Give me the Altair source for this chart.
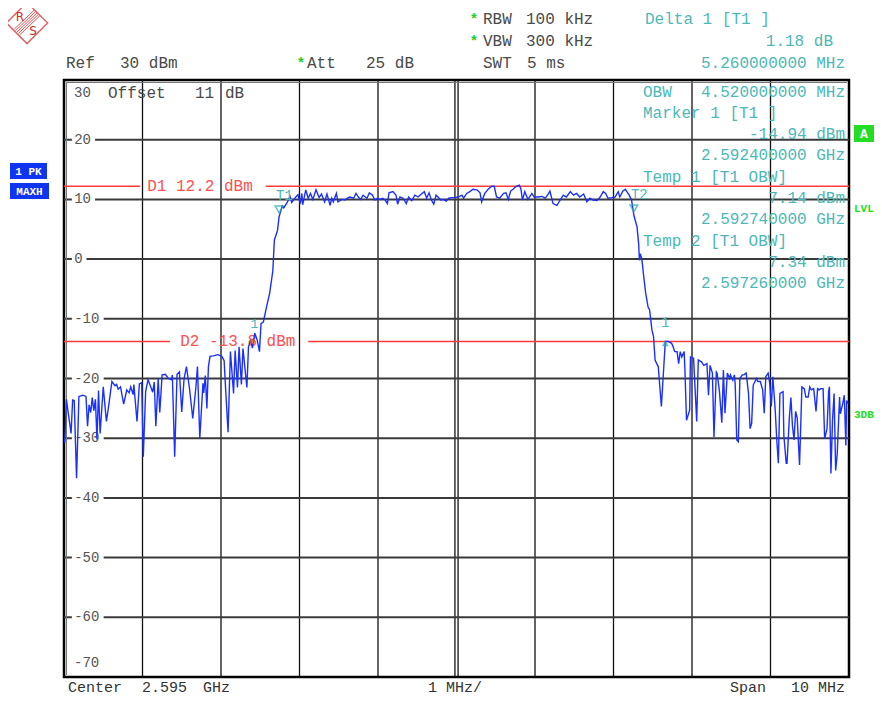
import altair as alt
import pandas as pd

# ---------------- instrument settings / readouts ----------------
center_ghz = 2.595
span_mhz = 10
ref_dbm = 30
att_db = 25
rbw_khz = 100
vbw_khz = 300
swt_ms = 5
offset_db = 11
y_tick_values = [30, 20, 10, 0, -10, -20, -30, -40, -50, -60, -70]
d1_dbm = 12.2
d2_dbm = -13.8
marker1 = (2.5924, -14.94)      # GHz, dBm
temp1 = (2.59274, 7.14)
temp2 = (2.59726, 7.34)
delta1 = (5.26, 1.18)           # MHz, dB
obw_mhz = 4.52

# ---------------- trace (offset from start freq in MHz, level dBm) ----------------
left_skirt = [
    (0.01, -30.8), (0.03, -23.5), (0.09, -29.2), (0.11, -23.6), (0.13, -23.7), (0.16, -36.7),
    (0.19, -23.0), (0.24, -22.8), (0.28, -23.0), (0.30, -28.0), (0.32, -24.4), (0.34, -25.7),
    (0.36, -23.2), (0.38, -25.4), (0.40, -23.5), (0.42, -30.2), (0.44, -22.0), (0.46, -29.2),
    (0.50, -21.4), (0.54, -27.2), (0.57, -24.5), (0.61, -20.5), (0.65, -21.2), (0.67, -21.0),
    (0.69, -21.8), (0.72, -21.4), (0.76, -24.3), (0.80, -21.9), (0.83, -22.4), (0.85, -21.4),
    (0.88, -22.7), (0.89, -21.0), (0.93, -27.2), (0.96, -20.9), (0.99, -20.7), (1.01, -33.1),
    (1.04, -22.2), (1.07, -20.2), (1.10, -21.2), (1.13, -22.3), (1.15, -20.6), (1.17, -28.0),
    (1.20, -20.0), (1.22, -25.7), (1.25, -19.4), (1.29, -19.3), (1.33, -20.0), (1.37, -20.2),
    (1.38, -19.4), (1.41, -33.1), (1.44, -19.3), (1.47, -18.9), (1.50, -25.6), (1.53, -20.0),
    (1.56, -18.0), (1.60, -21.8), (1.64, -26.7), (1.68, -21.5), (1.70, -18.0), (1.73, -30.0),
    (1.77, -20.8), (1.78, -22.4), (1.80, -19.5), (1.82, -25.0), (1.84, -18.0), (1.86, -16.3),
    (1.90, -16.2), (1.96, -16.0), (2.01, -16.3), (2.04, -17.0), (2.06, -22.0), (2.09, -29.0),
    (2.12, -15.5), (2.16, -22.5), (2.18, -15.3), (2.21, -21.5), (2.23, -14.7), (2.26, -21.0),
    (2.28, -15.0), (2.33, -21.5), (2.35, -14.7), (2.38, -13.6), (2.40, -14.9), (2.43, -12.4),
    (2.46, -13.5), (2.49, -15.5), (2.51, -10.8), (2.54, -10.5), (2.58, -8.0), (2.62, -5.7),
    (2.66, -2.0), (2.68, 3.2), (2.70, 4.0), (2.72, 4.8),
]
passband = [
    (2.74, 7.1), (2.76, 8.0), (2.78, 8.9), (2.80, 8.6), (2.84, 9.4), (2.88, 10.5), (2.90, 9.5),
    (2.94, 10.2), (2.98, 10.8), (3.01, 9.3), (3.03, 11.0), (3.04, 9.1), (3.08, 11.6), (3.11, 10.2),
    (3.14, 11.0), (3.17, 10.0), (3.21, 11.6), (3.25, 10.3), (3.28, 10.9), (3.32, 9.6), (3.35, 10.9),
    (3.39, 9.0), (3.41, 10.2), (3.43, 9.6), (3.47, 11.0), (3.49, 9.6), (3.54, 10.0), (3.58, 9.9),
    (3.61, 10.2), (3.64, 10.4), (3.69, 10.2), (3.72, 11.0), (3.75, 10.4), (3.78, 10.0), (3.81, 10.7),
    (3.86, 10.2), (3.89, 11.1), (3.93, 10.7), (3.96, 9.9), (3.99, 10.2), (4.03, 10.0), (4.06, 10.2),
    (4.09, 9.9), (4.12, 9.3), (4.14, 11.1), (4.19, 11.3), (4.23, 10.7), (4.25, 9.2), (4.28, 10.4),
    (4.32, 10.2), (4.36, 9.3), (4.39, 10.4), (4.43, 9.8), (4.47, 10.7), (4.51, 10.4), (4.56, 11.0),
    (4.59, 11.3), (4.62, 10.2), (4.65, 11.1), (4.68, 9.9), (4.71, 9.2), (4.74, 10.7), (4.77, 10.3),
    (4.80, 9.9), (4.83, 10.0), (4.87, 9.7), (4.90, 10.2), (4.94, 10.3), (4.98, 10.3), (5.02, 10.4),
    (5.07, 10.7), (5.09, 10.2), (5.13, 11.0), (5.17, 11.3), (5.21, 11.7), (5.26, 11.6), (5.30, 11.1),
    (5.32, 9.6), (5.36, 11.0), (5.41, 11.8), (5.45, 12.2), (5.48, 12.2), (5.51, 10.4), (5.55, 10.2),
    (5.60, 11.0), (5.63, 11.1), (5.66, 10.0), (5.69, 11.4), (5.72, 11.7), (5.76, 12.2), (5.80, 12.4),
    (5.82, 11.8), (5.84, 9.9), (5.87, 11.3), (5.91, 10.0), (5.96, 11.0), (5.99, 10.4), (6.04, 10.4),
    (6.09, 10.5), (6.13, 10.2), (6.16, 10.7), (6.19, 11.4), (6.23, 9.3), (6.28, 9.0), (6.32, 9.9),
    (6.36, 10.7), (6.40, 10.4), (6.45, 11.3), (6.49, 10.7), (6.53, 11.0), (6.57, 10.4), (6.62, 10.9),
    (6.66, 9.6), (6.70, 10.2), (6.74, 9.9), (6.79, 9.8), (6.83, 10.4), (6.87, 11.3), (6.90, 11.0),
    (6.93, 10.2), (6.98, 10.3), (7.02, 10.4), (7.06, 11.3), (7.08, 10.4), (7.12, 11.4), (7.15, 11.7),
    (7.17, 11.3), (7.20, 10.7), (7.23, 9.9),
]
right_skirt = [
    (7.26, 7.3), (7.30, 5.4), (7.32, 2.6), (7.33, -0.2), (7.34, 0.9), (7.36, 0.1), (7.39, -3.5),
    (7.41, -5.7), (7.44, -8.0), (7.46, -8.5), (7.49, -11.9), (7.51, -13.0), (7.53, -16.9),
    (7.55, -17.5), (7.57, -18.0), (7.61, -24.7), (7.66, -13.8), (7.70, -13.8), (7.74, -14.1),
    (7.76, -14.7), (7.78, -15.5), (7.81, -15.5), (7.83, -17.5), (7.85, -15.5), (7.87, -16.4),
    (7.90, -15.5), (7.91, -18.6), (7.93, -27.0), (7.97, -25.3), (7.98, -16.4), (8.02, -16.6),
    (8.06, -27.2), (8.08, -16.9), (8.12, -17.2), (8.15, -17.8), (8.19, -17.5), (8.21, -22.8),
    (8.23, -17.8), (8.26, -19.1), (8.28, -29.8), (8.31, -18.9), (8.32, -19.1), (8.35, -22.2),
    (8.38, -27.4), (8.40, -18.6), (8.42, -25.8), (8.45, -19.1), (8.48, -20.0), (8.49, -19.4),
    (8.52, -20.3), (8.54, -19.4), (8.55, -20.8), (8.57, -30.3), (8.59, -30.6), (8.61, -20.0),
    (8.64, -19.4), (8.66, -19.4), (8.69, -19.1), (8.72, -22.5), (8.74, -28.4), (8.76, -27.5),
    (8.78, -21.1), (8.82, -20.0), (8.84, -20.5), (8.87, -20.5), (8.90, -21.9), (8.92, -25.8),
    (8.94, -19.7), (8.97, -19.1), (8.99, -20.8), (9.01, -24.7), (9.03, -19.7), (9.06, -25.3),
    (9.08, -30.3), (9.10, -34.2), (9.12, -22.5), (9.16, -22.2), (9.17, -29.5), (9.20, -34.2),
    (9.21, -34.2), (9.24, -26.6), (9.26, -23.2), (9.28, -28.0), (9.30, -30.3), (9.32, -25.5),
    (9.34, -26.6), (9.37, -34.5), (9.40, -21.4), (9.43, -21.7), (9.45, -23.1), (9.48, -23.1),
    (9.50, -21.4), (9.52, -21.9), (9.55, -21.7), (9.58, -25.5), (9.60, -21.7), (9.62, -21.9),
    (9.64, -21.7), (9.67, -21.7), (9.69, -30.1), (9.72, -28.4), (9.74, -22.2), (9.75, -21.4),
    (9.77, -35.9), (9.79, -27.0), (9.81, -22.5), (9.83, -35.4), (9.85, -32.6), (9.88, -23.1),
    (9.89, -25.9), (9.92, -24.2), (9.94, -22.8), (9.96, -31.2), (9.97, -23.7), (9.99, -24.2),
]

# ---------------- styling ----------------
MONO = "Liberation Mono"
GRAY = "#4a4a4a"
TEAL = "#4db8b8"
GREEN = "#22dd22"
RED = "#ff3b3b"
BLUE = "#1a30ff"
BOXBLUE = "#1035f0"
LOGO = "#d42a2a"
X0, Y0 = 64, 80          # plot origin on the page
W, H = 785, 597

start_mhz = center_ghz * 1000 - span_mhz / 2
stop_mhz = center_ghz * 1000 + span_mhz / 2
XS = alt.Scale(domain=[start_mhz, stop_mhz], nice=False, zero=False)
YS = alt.Scale(domain=[y_tick_values[-1], y_tick_values[0]], nice=False, zero=False)


def X(f):
    return alt.X(f"{f}:Q", scale=XS, axis=None)


def Y(f):
    return alt.Y(f"{f}:Q", scale=YS, axis=None)


one = pd.DataFrame({"k": [0]})


def ptext(s, px, py, color, size=16, align="left", weight="normal", font=MONO):
    return alt.Chart(one).mark_text(
        align=align, baseline="middle", font=font, fontSize=size, fontWeight=weight, color=color
    ).encode(x=alt.value(px - X0), y=alt.value(py - Y0), text=alt.value(s))


def prect(x1, y1, x2, y2, color):
    return alt.Chart(one).mark_rect(color=color).encode(
        x=alt.value(x1 - X0), x2=alt.value(x2 - X0), y=alt.value(y1 - Y0), y2=alt.value(y2 - Y0)
    )


def pline(x1, y1, x2, y2, color, w=1.0):
    return alt.Chart(one).mark_rule(color=color, strokeWidth=w).encode(
        x=alt.value(x1 - X0), x2=alt.value(x2 - X0), y=alt.value(y1 - Y0), y2=alt.value(y2 - Y0)
    )


layers = []

# grid
vgrid = [start_mhz + i for i in range(1, 10) if i != 5] + [center_ghz * 1000 - 0.02, center_ghz * 1000 + 0.02]
layers.append(alt.Chart(pd.DataFrame({"f": vgrid})).mark_rule(color="#111", strokeWidth=1.3).encode(x=X("f")))
hgrid = y_tick_values[1:-1]
layers.append(alt.Chart(pd.DataFrame({"v": hgrid})).mark_rule(color="#3a3a3a", strokeWidth=2).encode(y=Y("v")))

# inner frame line (double border look)
layers.append(prect(66, 82, 847, 83, "#777"))
layers.append(prect(66, 82, 67, 675, "#777"))

# y labels with white background
lab_rows = []
for v in hgrid:
    t = str(v)
    lab_rows.append({"t": t, "v": v, "f": start_mhz + 0.13,
                     "f1": start_mhz + 0.10, "f2": start_mhz + 0.10 + (len(t) * 8.6 + 6) / 78.5,
                     "v1": v - 1.1, "v2": v + 1.1})
df_lab = pd.DataFrame(lab_rows)
layers.append(alt.Chart(df_lab).mark_rect(color="white").encode(x=X("f1"), x2="f2", y=Y("v1"), y2="v2"))
layers.append(alt.Chart(df_lab).mark_text(align="left", baseline="middle", font=MONO, fontSize=14,
                                          color="#555").encode(x=X("f"), y=Y("v"), text="t:N"))
layers.append(ptext(str(y_tick_values[0]), 74, 93, "#555", size=14))
layers.append(ptext(str(y_tick_values[-1]), 74, 663, "#555", size=14))

# display lines D1 / D2
df_dseg = pd.DataFrame({
    "f1": [start_mhz, start_mhz + 2.57, start_mhz, start_mhz + 3.11],
    "f2": [start_mhz + 0.97, stop_mhz, start_mhz + 1.35, stop_mhz],
    "v": [d1_dbm, d1_dbm, d2_dbm, d2_dbm],
})
layers.append(alt.Chart(df_dseg).mark_rule(color=RED, strokeWidth=1.3).encode(x=X("f1"), x2="f2", y=Y("v")))
df_dlab = pd.DataFrame({"f": [start_mhz + 1.06, start_mhz + 1.48], "v": [d1_dbm, d2_dbm],
                        "t": [f"D1 {d1_dbm} dBm", f"D2 {d2_dbm} dBm"]})
layers.append(alt.Chart(df_dlab).mark_text(align="left", baseline="middle", font=MONO, fontSize=16,
                                           color="#ff5050").encode(x=X("f"), y=Y("v"), text="t:N"))

# trace
df_tr = pd.DataFrame(left_skirt + passband + right_skirt, columns=["off", "lvl"])
df_tr["f"] = start_mhz + df_tr["off"]
layers.append(alt.Chart(df_tr).mark_line(color=BLUE, strokeWidth=1.4, clip=True).encode(
    x=X("f"), y=Y("lvl"), order="f:Q"))

# markers
df_t = pd.DataFrame({"f": [temp1[0] * 1000, temp2[0] * 1000], "v": [temp1[1], temp2[1]], "t": ["T1", "T2"]})
layers.append(alt.Chart(df_t).mark_point(shape="triangle-down", filled=False, size=60, color="#2aa5a5",
                                         strokeWidth=1.5, yOffset=-7).encode(x=X("f"), y=Y("v")))
layers.append(alt.Chart(df_t).mark_text(align="left", baseline="middle", font=MONO, fontSize=14, color=TEAL,
                                        dx=-3, dy=-20).encode(x=X("f"), y=Y("v"), text="t:N"))
df_m1 = pd.DataFrame({"f": [marker1[0] * 1000], "v": [marker1[1]], "t": ["1"]})
layers.append(alt.Chart(df_m1).mark_point(shape="circle", filled=True, size=30, color="#e0602a",
                                          yOffset=-7).encode(x=X("f"), y=Y("v")))
layers.append(alt.Chart(df_m1).mark_text(align="center", baseline="middle", font=MONO, fontSize=13,
                                         color=TEAL, dx=2, dy=-24).encode(x=X("f"), y=Y("v"), text="t:N"))
df_d1 = pd.DataFrame({"f": [marker1[0] * 1000 + delta1[0]], "v": [marker1[1] + delta1[1]], "t": ["1"]})
layers.append(alt.Chart(df_d1).mark_point(shape="triangle-up", filled=True, size=45, color="#2aa5a5",
                                          yOffset=2).encode(x=X("f"), y=Y("v")))
layers.append(alt.Chart(df_d1).mark_text(align="center", baseline="middle", font=MONO, fontSize=14,
                                         color=TEAL, dy=-18).encode(x=X("f"), y=Y("v"), text="t:N"))

# header texts
layers += [
    ptext("*", 474, 20, "#22cc22", size=14, align="center", weight="bold"),
    ptext("RBW", 483, 19, GRAY), ptext(f"{rbw_khz} kHz", 526, 19, GRAY),
    ptext("*", 474, 42, "#22cc22", size=14, align="center", weight="bold"),
    ptext("VBW", 483, 41, GRAY), ptext(f"{vbw_khz} kHz", 526, 41, GRAY),
    ptext("Ref", 66, 63, GRAY), ptext(f"{ref_dbm} dBm", 120, 63, GRAY),
    ptext("*", 301, 64, "#22cc22", size=14, align="center", weight="bold"),
    ptext("Att", 307, 63, GRAY), ptext(f"{att_db} dB", 366, 63, GRAY),
    ptext("SWT", 483, 63, GRAY), ptext(f"{swt_ms} ms", 527, 63, GRAY),
    ptext("Delta 1 [T1 ]", 645, 19, TEAL),
    ptext(f"{delta1[1]:.2f} dB", 833, 41, TEAL, align="right"),
    ptext(f"{delta1[0]:.9f} MHz", 845, 63, TEAL, align="right"),
    ptext("OBW", 643, 92, TEAL),
    ptext(f"{obw_mhz:.9f} MHz", 845, 92, TEAL, align="right"),
    ptext("Marker 1 [T1 ]", 643, 113, TEAL),
    ptext(f"{marker1[1]:.2f} dBm", 845, 134, TEAL, align="right"),
    ptext(f"{marker1[0]:.9f} GHz", 845, 155, TEAL, align="right"),
    ptext("Temp 1 [T1 OBW]", 643, 177, TEAL),
    ptext(f"{temp1[1]:.2f} dBm", 845, 198, TEAL, align="right"),
    ptext(f"{temp1[0]:.9f} GHz", 845, 219, TEAL, align="right"),
    ptext("Temp 2 [T1 OBW]", 643, 241, TEAL),
    ptext(f"{temp2[1]:.2f} dBm", 845, 262, TEAL, align="right"),
    ptext(f"{temp2[0]:.9f} GHz", 845, 283, TEAL, align="right"),
    ptext("Offset", 108, 93, GRAY), ptext(f"{offset_db}", 195, 93, GRAY), ptext("dB", 225, 93, GRAY),
    ptext("Center", 68, 687, "#333", size=15), ptext(f"{center_ghz}", 142, 687, "#333", size=15),
    ptext("GHz", 203, 687, "#333", size=15),
    ptext("1 MHz/", 428, 687, "#333", size=15),
    ptext("Span", 730, 687, "#333", size=15), ptext(f"{span_mhz} MHz", 845, 687, "#333", size=15, align="right"),
]

# side indicators
layers += [
    prect(10, 163, 47, 179, BOXBLUE), ptext("1 PK", 28.5, 171.5, "white", size=11, align="center", weight="bold"),
    prect(10, 183, 49, 199, BOXBLUE), ptext("MAXH", 29.5, 191.5, "white", size=11, align="center", weight="bold"),
    prect(854, 125, 874, 142, GREEN), ptext("A", 864, 134, "white", size=13, align="center", weight="bold"),
    ptext("LVL", 854, 209, GREEN, size=11, weight="bold"),
    ptext("3DB", 854, 415, GREEN, size=11, weight="bold"),
]

# R&S logo
layers.append(alt.Chart(one).mark_point(shape="diamond", size=1700, filled=False, color=LOGO,
                                        strokeWidth=1.5).encode(x=alt.value(27 - X0), y=alt.value(23 - Y0)))
for k in range(-2, 3):
    d = k * 1.4
    layers.append(pline(17 + d, 32 + d, 37 + d, 13 + d, LOGO, 0.8))
layers.append(ptext("R", 20, 17, LOGO, size=12, align="center", font="DejaVu Sans"))
layers.append(ptext("S", 33, 31, LOGO, size=12, align="center", font="DejaVu Sans"))

chart = alt.layer(*layers).properties(
    width=W, height=H,
    padding={"left": 56, "top": 72, "right": 25, "bottom": 19},
    autosize=alt.AutoSizeParams(type="none"),
    background="white",
).configure_view(stroke="#000", strokeWidth=2.5)

chart.save("out.html", embed_options={"renderer": "svg", "actions": False})
